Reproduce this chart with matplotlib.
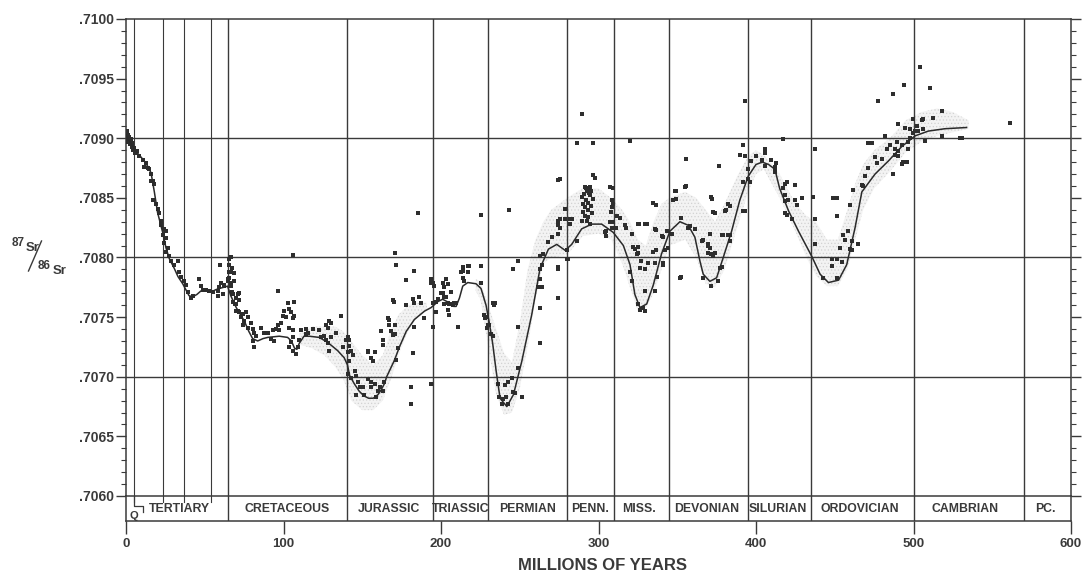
import matplotlib.pyplot as plt
from matplotlib.ticker import MultipleLocator, FuncFormatter
from matplotlib.lines import Line2D

plt.rcParams['font.family'] = ['Liberation Sans', 'DejaVu Sans']
plt.rcParams['font.weight'] = 'bold'
plt.rcParams['hatch.linewidth'] = 0.5
INK = '#3a3a3a'

## time scale (Ma)
period_edges = [65, 140, 195, 230, 280, 310, 345, 395, 435, 500, 570]
epoch_edges = [5, 23.5, 37, 54]
period_names = ['TERTIARY', 'CRETACEOUS', 'JURASSIC', 'TRIASSIC', 'PERMIAN', 'PENN.',
                'MISS.', 'DEVONIAN', 'SILURIAN', 'ORDOVICIAN', 'CAMBRIAN', 'PC.']
period_mid = [34, 102.5, 167, 212.5, 255, 294.5, 325.5, 369, 414, 466, 533, 584]

## best fit curve through the seawater data
curve_age = [0, 1, 3, 6.3, 9, 11.6, 14, 15.9, 18, 20, 23.3, 25.4, 27.5, 30.6, 33, 36, 40, 42.3,
             45, 47.6, 51, 54, 57, 59.2, 62, 64.5, 66.5, 70, 75, 78, 80.4, 83.6, 87, 90, 97.3,
             102.6, 105, 107, 108.5, 110, 113, 116.3, 122.6, 127.9, 134.3, 138.5, 140.6, 142,
             145, 148, 151, 154, 157, 160, 162, 164, 165.5, 167.3, 170.5, 173.6, 177.9, 183.1,
             189.5, 193.7, 198, 201, 205.3, 208, 209.6, 211.7, 213.8, 217, 222.2, 225.4, 228.6,
             230.7, 232.8, 235, 237.5, 241.8, 246, 251.3, 257.6, 262.9, 268.2, 273.5, 278.8,
             283, 289.3, 295.7, 302, 309.4, 315.8, 320, 323.1, 326.3, 330.6, 334.8, 340, 345.3,
             351.7, 357, 361.2, 364.4, 366.5, 370.7, 375, 379.2, 384.5, 389.7, 395, 400, 404,
             408, 412, 415, 420.7, 427, 435.4, 440.7, 446, 452.4, 457.6, 462.9, 467.2, 475.6,
             484.1, 492.5, 501, 509.4, 520, 533.7]
curve_sr = [.70903, .70900, .70896, .70889, .70885, .70881, .70876, .70871, .70855, .70838,
            .70821, .70808, .70799, .70791, .70784, .70778, .70768, .70767, .70769, .70772,
            .70772, .70771, .70773, .70774, .70775, .70776, .70768, .70758, .70747, .70738,
            .70732, .70730, .70732, .70733, .70734, .70733, .70730, .70724, .70723, .70728,
            .70734, .70734, .70733, .70729, .70722, .70716, .70710, .70701, .70694, .70688,
            .70684, .70682, .70682, .70685, .70689, .70694, .70700, .70705, .70714, .70725,
            .70738, .70748, .70755, .70758, .70763, .70765, .70762, .70759, .70759, .70766,
            .70776, .70779, .70778, .70774, .70760, .70745, .70728, .70705, .70682, .70675,
            .70685, .70713, .70752, .70791, .70807, .70811, .70806, .70811, .70824, .70828,
            .70828, .70821, .70810, .70794, .70769, .70758, .70761, .70777, .70803, .70822,
            .70830, .70827, .70817, .70797, .70786, .70780, .70783, .70800, .70822, .70848,
            .70868, .70878, .70880, .70878, .70874, .70858, .70839, .70822, .70801, .70786,
            .70779, .70781, .70794, .70825, .70855, .70870, .70881, .70893, .70902, .70906,
            .70908, .70909]

## stippled envelope of the data
band1_age = [110, 118, 126, 133, 138, 143, 150, 157, 163, 168, 173, 179, 185, 191]
band1_lo = [.70727, .70724, .70718, .70708, .70698, .70680, .70672, .70672, .70680, .70697,
            .70718, .70738, .70750, .70756]
band1_hi = [.70736, .70742, .70742, .70742, .70738, .70730, .70718, .70710, .70718, .70738,
            .70752, .70760, .70762, .70762]
band2_age = [222, 225, 230, 235, 240, 245, 250, 255, 260, 265, 270, 280, 290, 300, 308, 315,
             320, 325, 330, 335, 340, 345, 355, 362, 368, 374, 380, 388, 395, 400, 405, 415,
             425, 432, 438, 445, 452, 458, 463, 468, 475, 485, 495, 505, 515, 525, 535]
band2_lo = [.70772, .70765, .70725, .70685, .70668, .70670, .70690, .70725, .70765, .70795,
            .70800, .70802, .70818, .70820, .70815, .70795, .70775, .70755, .70758, .70770,
            .70790, .70810, .70815, .70800, .70778, .70775, .70790, .70825, .70855, .70870,
            .70874, .70850, .70822, .70800, .70785, .70776, .70776, .70790, .70815, .70840,
            .70858, .70872, .70888, .70897, .70902, .70905, .70908]
band2_hi = [.70782, .70780, .70760, .70740, .70720, .70712, .70745, .70790, .70815, .70830,
            .70840, .70850, .70858, .70858, .70850, .70840, .70830, .70815, .70810, .70830,
            .70845, .70850, .70855, .70850, .70840, .70830, .70845, .70868, .70885, .70890,
            .70886, .70870, .70845, .70835, .70830, .70815, .70815, .70840, .70862, .70878,
            .70890, .70900, .70915, .70922, .70925, .70922, .70915]

## individual analyses
ceno_age = [0.5, 0.8, 1.2, 1.5, 2.0, 2.5, 3.0, 3.5, 4.0, 4.5, 5.2, 6.0, 7.0, 8.5, 10.6, 11.6,
            12.7, 13.7, 14.8, 15.9, 15.9, 16.9, 18.0, 16.9, 19.0, 20.1, 21.1, 22.2, 22.2, 24.3,
            25.4, 23.3, 25.4, 24.3, 26.4, 25.4, 27.5, 28.5, 32.8, 30.7, 33.8, 34.9, 37.0, 38.1,
            39.1, 41.2, 42.3, 46.5, 47.6, 48.6, 50.7, 52.8, 55.0, 58.1, 59.2, 59.6, 60.2, 61.3,
            58.1, 62.4, 64.5, 62.5, 61.5, 64.6]
ceno_sr = [.70906, .70900, .70903, .70897, .70901, .70895, .70899, .70893, .70896, .70890,
           .70892, .70888, .70889, .70885, .70882, .70876, .70879, .70875, .70874, .70870,
           .70864, .70864, .70862, .70848, .70845, .70841, .70837, .70831, .70827, .70824,
           .70822, .70819, .70816, .70812, .70808, .70805, .70801, .70797, .70797, .70794,
           .70788, .70784, .70780, .70777, .70771, .70766, .70768, .70782, .70776, .70773,
           .70773, .70772, .70771, .70772, .70775, .70794, .70779, .70769, .70768, .70776,
           .70782, .70777, .70769, .70780]

cret_age = [65.5, 66.6, 67.6, 68.7, 68.7, 66.6, 67.6, 69.7, 69.7, 71.9, 71.9, 70.8, 74.0, 77.2,
            65.7, 65.7, 66.7, 65.7, 66.7, 67.8, 71.0, 67.8, 68.9, 69.9, 72.0, 73.1, 75.2, 76.3,
            74.1, 77.3, 79.4, 80.5, 81.5, 82.6, 80.5, 81.5, 85.8, 87.9, 90.0, 92.1, 94.2, 93.2,
            95.3, 96.3, 97.4, 98.4, 99.5, 100.6, 101.6, 102.7, 103.7, 104.8, 105.8, 106.9, 106.9,
            103.7, 105.8, 105.8, 104.8, 103.7, 105.8, 108.0, 109.0, 110.1, 111.1, 114.3, 114.3,
            115.4, 118.5, 122.8, 123.8, 125.9, 127.0, 128.0, 129.1, 130.2, 127.0, 128.0, 129.1,
            130.2, 133.3, 136.5, 137.5, 96.3, 105.8]
cret_sr = [.70788, .70800, .70791, .70787, .70780, .70776, .70771, .70766, .70761, .70770,
           .70764, .70755, .70753, .70750, .70799, .70794, .70788, .70783, .70779, .70769,
           .70769, .70763, .70761, .70755, .70754, .70750, .70747, .70754, .70743, .70741,
           .70745, .70740, .70737, .70734, .70730, .70725, .70741, .70737, .70737, .70732,
           .70730, .70739, .70740, .70743, .70739, .70745, .70751, .70755, .70750, .70762,
           .70757, .70754, .70749, .70763, .70751, .70741, .70739, .70733, .70729, .70725,
           .70722, .70719, .70725, .70731, .70739, .70740, .70736, .70737, .70740, .70739,
           .70733, .70734, .70743, .70741, .70747, .70745, .70731, .70728, .70722, .70733,
           .70737, .70751, .70725, .70772, .70802]

meso_age = [139.8, 140.7, 141.8, 141.8, 142.8, 143.9, 140.9, 141.9, 140.9, 143.0, 145.1, 146.2,
            147.2, 148.3, 146.2, 150.4, 151.4, 153.6, 155.7, 155.7, 157.8, 159.9, 158.8, 161.0,
            164.1, 163.1, 153.6, 155.7, 156.7, 157.8, 153.4, 162.0, 163.1, 163.1, 166.2, 167.3,
            168.4, 170.5, 170.5, 171.5, 172.6, 169.4, 171.5, 177.9, 177.9, 182.1, 182.7, 186.3,
            187.4, 189.5, 182.1, 181.0, 181.0, 185.3, 170.5, 167.3, 169.4, 183.1, 183.1, 170.0,
            193.7, 194.8, 193.7, 194.8, 196.9, 198.0, 200.1, 202.2, 203.2, 204.3, 206.4, 206.4,
            208.5, 210.6, 212.7, 213.8, 213.8, 217.0, 217.0, 225.4, 225.4, 227.5, 230.7, 231.8,
            232.8, 233.9, 193.7, 194.8, 195.8, 196.9, 201.1, 202.2, 203.2, 201.1, 202.2, 204.3,
            205.3, 207.4, 204.3, 205.3, 209.6, 213.8, 214.8, 218.0, 225.4, 228.6, 229.6]
meso_sr = [.70731, .70733, .70731, .70726, .70722, .70718, .70721, .70713, .70702, .70699,
           .70705, .70701, .70696, .70691, .70685, .70691, .70685, .70698, .70696, .70691,
           .70694, .70688, .70683, .70691, .70696, .70688, .70721, .70716, .70713, .70721,
           .70722, .70738, .70731, .70727, .70749, .70743, .70738, .70743, .70736, .70714,
           .70724, .70764, .70794, .70760, .70781, .70765, .70789, .70767, .70762, .70749,
           .70720, .70691, .70677, .70837, .70804, .70748, .70735, .70742, .70762, .70763,
           .70694, .70742, .70779, .70762, .70754, .70765, .70770, .70761, .70767, .70778,
           .70761, .70771, .70762, .70742, .70788, .70792, .70783, .70793, .70788, .70793,
           .70779, .70752, .70743, .70736, .70762, .70760, .70782, .70779, .70776, .70763,
           .70779, .70775, .70782, .70770, .70767, .70762, .70761, .70760, .70756, .70752,
           .70762, .70789, .70780, .70793, .70836, .70750, .70743]

late_paleo_age = [236.0, 237.1, 239.2, 241.3, 242.3, 243.4, 228.0, 229.1, 233.3, 234.4, 238.6,
                  240.7, 242.8, 244.9, 246.0, 247.0, 251.3, 249.1, 249.1, 249.1, 246.0, 262.9,
                  262.9, 261.8, 263.9, 262.9, 262.9, 263.9, 265.0, 262.9, 268.2, 270.3, 274.5,
                  274.5, 274.5, 275.6, 278.7, 278.7, 274.5, 275.6, 274.5, 274.5, 279.8, 279.8,
                  281.9, 283.0, 286.1, 289.3, 290.4, 291.4, 292.5, 294.6, 291.4, 293.5, 293.5,
                  292.5, 294.6, 295.7, 296.7, 290.4, 291.4, 289.3, 293.1, 294.0, 291.0, 291.8,
                  295.2, 307.3, 308.3, 308.3, 307.3, 308.3, 304.1, 311.5, 316.8, 321.0, 323.1,
                  325.2, 329.5, 324.2, 320.0, 321.0, 326.3, 329.5, 334.8, 335.8, 340.0, 341.1,
                  329.5, 325.2, 326.3, 328.4, 329.5, 334.8, 335.8, 336.9, 342.2, 343.2, 346.4,
                  347.4, 348.5, 351.7, 354.8, 357.0, 361.2, 365.4, 366.5, 371.7, 372.8, 369.6,
                  370.7, 371.7, 373.9, 376.0, 377.0, 378.1, 380.2, 382.3, 382.3, 383.4, 389.7,
                  391.8, 395.0, 395.0, 397.1, 403.5, 409.8, 411.9, 289.8, 286.4, 296.2, 319.8,
                  392.8, 355.4, 376.5, 391.7, 392.8, 400.2, 405.4, 405.4, 412.8, 297.6, 309.3,
                  313.5, 317.3, 325.8, 330.8, 336.3, 336.3, 336.3, 335.7, 349.0, 349.0, 355.8,
                  372.3, 373.7, 381.1, 383.2, 392.8, 391.7, 396.0, 352.6, 325.1, 325.1, 322.0,
                  327.2, 331.5, 341.0, 341.0, 344.2, 352.6, 357.9, 366.3, 369.5, 370.6, 371.6,
                  373.0, 369.5, 379.0, 383.2, 378.6, 274.4, 280.7, 275.5, 275.5, 281.8, 292.2,
                  295.5, 294.5, 296.6, 309.3, 308.2, 308.9, 305.0, 304.6, 311.4]
late_paleo_sr = [.70694, .70683, .70681, .70683, .70677, .70840, .70749, .70741, .70734, .70762,
                 .70677, .70693, .70696, .70699, .70687, .70686, .70683, .70707, .70742, .70797,
                 .70790, .70728, .70758, .70775, .70775, .70782, .70790, .70794, .70803, .70801,
                 .70813, .70817, .70820, .70831, .70827, .70832, .70841, .70832, .70865, .70866,
                 .70790, .70766, .70799, .70806, .70828, .70832, .70814, .70851, .70845, .70859,
                 .70856, .70859, .70842, .70840, .70834, .70831, .70828, .70837, .70869, .70838,
                 .70835, .70831, .70846, .70854, .70853, .70848, .70843, .70859, .70848, .70842,
                 .70830, .70825, .70821, .70835, .70827, .70820, .70807, .70828, .70828, .70803,
                 .70788, .70780, .70791, .70790, .70805, .70824, .70818, .70794, .70772, .70761,
                 .70756, .70758, .70755, .70846, .70772, .70784, .70806, .70822, .70820, .70848,
                 .70856, .70783, .70859, .70825, .70824, .70814, .70783, .70851, .70838, .70811,
                 .70808, .70776, .70804, .70780, .70791, .70819, .70839, .70845, .70819, .70814,
                 .70886, .70839, .70874, .70866, .70881, .70882, .70882, .70876, .70920, .70896,
                 .70896, .70898, .70931, .70883, .70877, .70894, .70885, .70885, .70891, .70889,
                 .70879, .70867, .70858, .70833, .70825, .70828, .70828, .70844, .70823, .70806,
                 .70795, .70856, .70849, .70860, .70849, .70837, .70840, .70843, .70839, .70863,
                 .70863, .70784, .70809, .70804, .70809, .70797, .70795, .70817, .70795, .70808,
                 .70833, .70826, .70815, .70810, .70820, .70803, .70801, .70804, .70819, .70819,
                 .70792, .70792, .70799, .70832, .70825, .70832, .70858, .70856, .70852, .70849,
                 .70845, .70838, .70830, .70818, .70822, .70825]

early_paleo_age = [405.8, 405.8, 412.2, 412.2, 418.5, 419.6, 417.4, 418.5, 418.5, 420.6, 424.8,
                   424.8, 425.9, 418.5, 419.6, 422.7, 417.4, 437.5, 436.5, 437.5, 437.5, 442.8,
                   448.1, 448.1, 451.3, 451.3, 454.4, 453.4, 451.3, 451.3, 455.5, 456.5, 458.7,
                   459.7, 460.8, 459.7, 460.8, 465.0, 461.8, 467.1, 468.2, 469.2, 471.3, 471.3,
                   473.5, 475.6, 476.6, 479.8, 481.9, 483.0, 485.1, 487.2, 487.2, 488.2, 488.2,
                   489.3, 490.0, 490.4, 490.4, 492.5, 492.5, 493.5, 494.6, 495.6, 496.7, 496.7,
                   497.8, 497.8, 499.9, 499.9, 500.9, 502.0, 503.1, 504.1, 505.2, 506.2, 506.2,
                   507.3, 510.4, 512.6, 517.8, 517.8, 529.5, 530.5, 561.2, 494.2, 477.7, 449.1,
                   429.1]
early_paleo_sr = [.70888, .70877, .70875, .70872, .70862, .70863, .70858, .70852, .70847, .70848,
                  .70861, .70848, .70844, .70837, .70836, .70832, .70899, .70891, .70851, .70832,
                  .70811, .70783, .70799, .70793, .70799, .70783, .70796, .70808, .70835, .70850,
                  .70819, .70815, .70822, .70844, .70814, .70807, .70806, .70811, .70857, .70861,
                  .70860, .70868, .70875, .70896, .70896, .70884, .70879, .70883, .70902, .70891,
                  .70894, .70870, .70937, .70891, .70886, .70897, .70912, .70889, .70885, .70894,
                  .70878, .70880, .70909, .70880, .70897, .70891, .70900, .70908, .70916, .70904,
                  .70906, .70910, .70906, .70960, .70915, .70916, .70908, .70898, .70942, .70917,
                  .70923, .70902, .70900, .70900, .70913, .70945, .70931, .70850, .70850]

W, H = 1086, 573
fig = plt.figure(figsize=(W / 100, H / 100), dpi=100)
ax = fig.add_axes([126 / W, 1 - 496 / H, 945 / W, 477 / H])
strip = fig.add_axes([126 / W, 1 - 521 / H, 945 / W, 25 / H], sharex=ax)

## stipple band
for b_age, b_lo, b_hi in [(band1_age, band1_lo, band1_hi), (band2_age, band2_lo, band2_hi)]:
    ax.fill_between(b_age, b_lo, b_hi, facecolor='#f3f3f3', edgecolor='none', lw=0, zorder=1)
    ax.fill_between(b_age, b_lo, b_hi, facecolor='none', edgecolor='#d2d2d2', hatch='.....',
                    lw=0, zorder=1)

## grid and time boundaries
for v in [.7070, .7080, .7090]:
    ax.axhline(v, color=INK, lw=1.0, zorder=2)
for e in period_edges:
    ax.axvline(e, color=INK, lw=1.0, zorder=2)
    strip.axvline(e, color=INK, lw=1.0)
for e in epoch_edges:
    ax.axvline(e, color=INK, lw=0.8, zorder=2)
    strip.axvline(e, ymin=0.78, ymax=1, color=INK, lw=0.8)

## data points and curve
for a, s in [(ceno_age, ceno_sr), (cret_age, cret_sr), (meso_age, meso_sr),
             (late_paleo_age, late_paleo_sr), (early_paleo_age, early_paleo_sr)]:
    ax.scatter(a, s, marker='s', s=5, color='#2e2e2e', lw=0, zorder=3)
ax.plot(curve_age, curve_sr, color='#2a2a2a', lw=1.1, zorder=4)

ax.set_xlim(0, 600)
ax.set_ylim(0.7060, 0.7100)
ax.yaxis.set_major_locator(MultipleLocator(0.0005))
ax.yaxis.set_minor_locator(MultipleLocator(0.0001))
ax.yaxis.set_major_formatter(FuncFormatter(lambda v, p: '{:.4f}'.format(v)[1:]))
ax.tick_params(axis='y', which='both', left=True, right=True, labelright=False,
               direction='out', color=INK, labelcolor=INK, labelsize=10, pad=2)
ax.tick_params(axis='y', which='major', length=7, width=1.0)
ax.tick_params(axis='y', which='minor', length=3.5, width=0.8)
ax.tick_params(axis='x', bottom=False, labelbottom=False)
for sp in ax.spines.values():
    sp.set_color(INK)
    sp.set_linewidth(1.1)
ax.spines['bottom'].set_visible(False)

## geologic period strip
strip.set_ylim(0, 1)
strip.set_yticks([])
strip.set_xticks(range(0, 601, 100))
strip.tick_params(axis='x', direction='out', length=9, width=1.0, color=INK,
                  labelcolor=INK, labelsize=9.5, pad=3)
for sp in strip.spines.values():
    sp.set_color(INK)
    sp.set_linewidth(1.1)
for name, mid in zip(period_names, period_mid):
    strip.text(mid, 0.47, name, ha='center', va='center', fontsize=8.8, color=INK)
strip.plot([5, 5, 10.5, 10.5], [1, 0.62, 0.62, 0.35], color=INK, lw=0.9)
strip.text(5, 0.2, 'Q', ha='center', va='center', fontsize=8, color=INK)

fig.text(602 / W, 1 - 565 / H, 'MILLIONS OF YEARS', ha='center', va='center',
         fontsize=12, color=INK)

## 87Sr/86Sr axis label
fig.text(18 / W, 1 - 243 / H, '87', ha='center', va='center', fontsize=8.5, color=INK)
fig.text(33 / W, 1 - 248 / H, 'Sr', ha='center', va='center', fontsize=9.5, color=INK)
fig.add_artist(Line2D([41.5 / W, 28.5 / W], [1 - 241 / H, 1 - 271 / H], color=INK, lw=1.0))
fig.text(44 / W, 1 - 266 / H, '86', ha='center', va='center', fontsize=8.5, color=INK)
fig.text(60 / W, 1 - 271 / H, 'Sr', ha='center', va='center', fontsize=9.5, color=INK)

fig.savefig('out.png', dpi=100)
